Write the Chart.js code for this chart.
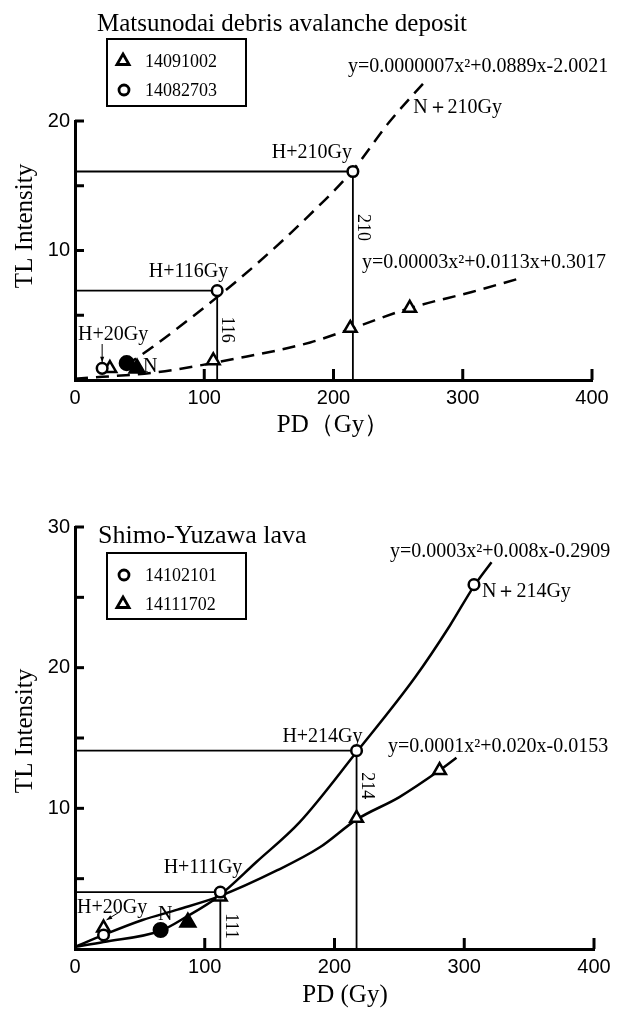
<!DOCTYPE html>
<html>
<head>
<meta charset="utf-8">
<script src="https://cdn.jsdelivr.net/npm/chart.js@4.4.1/dist/chart.umd.min.js"></script>
<style>
  html, body { margin: 0; padding: 0; background: #fff; }
  #wrap { position: relative; width: 629px; height: 1012px; }
  .box { position: absolute; left: 0; width: 629px; }
</style>
</head>
<body>
<div id="wrap">
  <div class="box" style="top:0;height:450px"><canvas id="topChart"></canvas></div>
  <div class="box" style="top:460px;height:552px"><canvas id="bottomChart"></canvas></div>
</div>
<script>
// Matsunodai debris avalanche deposit (top)
const topTriX = [27, 107, 213, 259];          // 14091002
const topTriY = [0.9, 1.5, 4.0, 5.55];
const topCirX = [21, 110, 215, 257];          // 14082703
const topCirY = [0.9, 6.9, 16.1, 21.1];
const topNCirX = [40], topNCirY = [1.3];      // natural, filled
const topNTriX = [48], topNTriY = [0.9];
const topFitCirX = [39, 60, 110, 141, 180, 215, 243, 273];
const topFitCirY = [1.1, 2.55, 6.4, 9.0, 12.6, 16.2, 19.9, 23.3];
const topFitTriX = [0, 63, 127, 182, 215, 259, 307, 346];
const topFitTriY = [0.1, 0.6, 1.7, 2.9, 4.0, 5.55, 6.8, 7.9];
const topGuide1X = [0, 215, 215], topGuide1Y = [16.1, 16.1, 0];
const topGuide2X = [0, 110, 110], topGuide2Y = [6.9, 6.9, 0];

// Shimo-Yuzawa lava (bottom)
const botCirX = [22, 112, 217, 307.5];        // 14102101
const botCirY = [1.0, 4.05, 14.1, 25.9];
const botTriX = [22, 112, 217, 281];          // 14111702
const botTriY = [1.5, 3.7, 9.3, 12.7];
const botNCirX = [66], botNCirY = [1.35];
const botNTriX = [87], botNTriY = [1.9];
const botFitCirX = [0, 22, 66, 86, 110, 140, 173, 217, 262, 289, 307.5, 321];
const botFitCirY = [0.15, 0.5, 1.3, 2.3, 3.7, 6.2, 9.0, 14.0, 19.3, 23.0, 25.8, 27.5];
const botFitTriX = [0, 22, 52, 79, 110, 156, 189, 217, 250, 281, 294];
const botFitTriY = [0.15, 1.0, 2.06, 2.8, 3.7, 5.6, 7.25, 9.2, 10.8, 12.7, 13.6];
const botGuide1X = [0, 217, 217], botGuide1Y = [14.1, 14.1, 0];
const botGuide2X = [0, 112, 112], botGuide2Y = [4.05, 4.05, 0];

const xTicks = [0, 100, 200, 300, 400];

const serif = '"Liberation Serif", "Times New Roman", serif';
const sans = '"Liberation Sans", Arial, sans-serif';

function pts(xs, ys) { return xs.map((x, i) => ({ x: x, y: ys[i] })); }

function marks(xs, ys, style, r, filled) {
  return { data: pts(xs, ys), pointStyle: style, pointRadius: r, pointBorderWidth: 2.5,
    pointBorderColor: '#000', pointBackgroundColor: filled ? '#000' : '#fff',
    showLine: false, clip: false, order: 0 };
}
function curve(xs, ys, dash) {
  return { data: pts(xs, ys), showLine: true, borderColor: '#000', borderWidth: 2.5,
    borderDash: dash || [], pointRadius: 0, cubicInterpolationMode: 'monotone',
    fill: false, clip: false, order: 1 };
}
function guide(xs, ys) {
  return { data: pts(xs, ys), showLine: true, borderColor: '#000', borderWidth: 1.8,
    pointRadius: 0, tension: 0, fill: false, clip: false, order: 2 };
}

function txt(ctx, s, x, y, size, align, base, rot, fam) {
  ctx.save();
  ctx.translate(x, y);
  if (rot) ctx.rotate(rot);
  ctx.font = size + 'px ' + (fam || serif);
  ctx.fillStyle = '#000';
  ctx.textAlign = align || 'left';
  ctx.textBaseline = base || 'alphabetic';
  ctx.fillText(s, 0, 0);
  ctx.restore();
}
function triSym(ctx, x, y, r) {
  ctx.beginPath();
  ctx.moveTo(x, y - r);
  ctx.lineTo(x + r * 0.866, y + r * 0.5);
  ctx.lineTo(x - r * 0.866, y + r * 0.5);
  ctx.closePath();
  ctx.fillStyle = '#fff'; ctx.fill();
  ctx.lineWidth = 2.8; ctx.strokeStyle = '#000'; ctx.stroke();
}
function cirSym(ctx, x, y, r) {
  ctx.beginPath();
  ctx.arc(x, y, r, 0, Math.PI * 2);
  ctx.fillStyle = '#fff'; ctx.fill();
  ctx.lineWidth = 2.8; ctx.strokeStyle = '#000'; ctx.stroke();
}
function arrow(ctx, x1, y1, x2, y2) {
  const a = Math.atan2(y2 - y1, x2 - x1);
  ctx.save();
  ctx.strokeStyle = '#000'; ctx.fillStyle = '#000'; ctx.lineWidth = 1;
  ctx.beginPath(); ctx.moveTo(x1, y1); ctx.lineTo(x2, y2); ctx.stroke();
  ctx.beginPath();
  ctx.moveTo(x2, y2);
  ctx.lineTo(x2 - 6 * Math.cos(a - 0.35), y2 - 6 * Math.sin(a - 0.35));
  ctx.lineTo(x2 - 6 * Math.cos(a + 0.35), y2 - 6 * Math.sin(a + 0.35));
  ctx.closePath(); ctx.fill();
  ctx.restore();
}
function legendBox(ctx, x, y, w, h, rows) {
  ctx.save();
  ctx.lineWidth = 2; ctx.strokeStyle = '#000';
  ctx.strokeRect(x, y, w, h);
  rows.forEach(r => {
    if (r.sym === 'tri') triSym(ctx, x + 16, r.y, 7); else cirSym(ctx, x + 17, r.y, 5);
    txt(ctx, r.label, x + 38, r.y + 1, 18, 'left', 'middle');
  });
  ctx.restore();
}

// inward tick marks drawn at the scale's own tick values
function drawTicks(chart) {
  const ctx = chart.ctx, xs = chart.scales.x, ys = chart.scales.y;
  const a = chart.chartArea;
  ctx.save();
  ctx.strokeStyle = '#000'; ctx.lineWidth = 3;
  xs.ticks.forEach(t => {
    if (t.value === 0) return;
    const p = xs.getPixelForValue(t.value);
    ctx.beginPath(); ctx.moveTo(p, a.bottom); ctx.lineTo(p, a.bottom - 11); ctx.stroke();
  });
  ys.ticks.forEach(t => {
    if (t.value === 0) return;
    const p = ys.getPixelForValue(t.value);
    ctx.beginPath(); ctx.moveTo(a.left, p); ctx.lineTo(a.left + 9, p); ctx.stroke();
  });
  ctx.restore();
}

function scaleOpts(ymax, yW, xH) {
  const border = { display: true, width: 3, color: '#000' };
  return {
    x: { type: 'linear', min: 0, max: 400, afterFit: s => { s.height = xH; },
      afterBuildTicks: s => { s.ticks = xTicks.map(v => ({ value: v })); },
      ticks: { autoSkip: false, padding: 6, color: '#000', maxRotation: 0,
        font: { family: sans, size: 20 } },
      grid: { display: false, drawTicks: false }, border: border },
    y: { type: 'linear', min: 0, max: ymax, afterFit: s => { s.width = yW; },
      ticks: { stepSize: 5, autoSkip: false, padding: 5, color: '#000',
        font: { family: sans, size: 20 },
        callback: v => (v % 10 === 0 && v !== 0) ? String(v) : '' },
      grid: { display: false, drawTicks: false }, border: border }
  };
}

function baseOptions(ymax, pad, xH) {
  return {
    responsive: true, maintainAspectRatio: false, animation: false, events: [],
    layout: { padding: pad },
    plugins: { legend: { display: false }, tooltip: { enabled: false } },
    scales: scaleOpts(ymax, 75, xH)
  };
}

const dash = [13, 8];

new Chart(document.getElementById('topChart'), {
  type: 'scatter',
  data: { datasets: [
    marks(topCirX, topCirY, 'circle', 5.3, false),
    marks(topTriX, topTriY, 'triangle', 7.3, false),
    marks(topNCirX, topNCirY, 'circle', 6.8, true),
    marks(topNTriX, topNTriY, 'triangle', 8.5, true),
    curve(topFitCirX, topFitCirY, dash),
    curve(topFitTriX, topFitTriY, dash),
    guide(topGuide1X, topGuide1Y),
    guide(topGuide2X, topGuide2Y)
  ] },
  options: baseOptions(20, { top: 121, right: 37, left: 0, bottom: 0 }, 70),
  plugins: [{
    id: 'topDeco',
    afterDraw(chart) {
      const ctx = chart.ctx, X = v => chart.scales.x.getPixelForValue(v),
            Y = v => chart.scales.y.getPixelForValue(v);
      drawTicks(chart);
      txt(ctx, 'Matsunodai debris avalanche deposit', 97, 31, 25);
      legendBox(ctx, 107, 39, 139, 67, [
        { sym: 'tri', y: 61, label: '14091002' },
        { sym: 'cir', y: 90, label: '14082703' }
      ]);
      txt(ctx, 'TL Intensity', 25, 226, 25, 'center', 'middle', -Math.PI / 2);
      txt(ctx, 'PD（Gy）', 333, 425, 25, 'center', 'middle');
      txt(ctx, 'y=0.0000007x²+0.0889x-2.0021', 348, 72, 20);
      txt(ctx, 'y=0.00003x²+0.0113x+0.3017', 362, 268, 20);
      txt(ctx, 'H+210Gy', X(topCirX[2]) - 1, Y(topCirY[2]) - 14, 20, 'right');
      txt(ctx, 'N＋210Gy', X(topCirX[3]) + 6, Y(topCirY[3]) + 1, 20, 'left', 'middle');
      txt(ctx, 'H+116Gy', X(topCirX[1]) + 11, Y(topCirY[1]) - 14, 20, 'right');
      txt(ctx, '116', X(topGuide2X[1]) + 10, Y(topCirY[1]) + 39, 18, 'center', 'middle', Math.PI / 2);
      txt(ctx, '210', X(topGuide1X[1]) + 10, Y(topCirY[2]) + 56, 18, 'center', 'middle', Math.PI / 2);
      txt(ctx, 'H+20Gy', 78, 340, 20);
      arrow(ctx, X(topCirX[0]), 344, X(topCirX[0]), Y(topCirY[0]) - 6);
      txt(ctx, 'N', 143, 372, 20);
    }
  }]
});

new Chart(document.getElementById('bottomChart'), {
  type: 'scatter',
  data: { datasets: [
    marks(botCirX, botCirY, 'circle', 5.3, false),
    marks(botTriX, botTriY, 'triangle', 7.3, false),
    marks(botNCirX, botNCirY, 'circle', 6.8, true),
    marks(botNTriX, botNTriY, 'triangle', 8.5, true),
    curve(botFitCirX, botFitCirY),
    curve(botFitTriX, botFitTriY),
    guide(botGuide1X, botGuide1Y),
    guide(botGuide2X, botGuide2Y)
  ] },
  options: baseOptions(30, { top: 67, right: 35, left: 0, bottom: 0 }, 63),
  plugins: [{
    id: 'bottomDeco',
    afterDraw(chart) {
      const ctx = chart.ctx, X = v => chart.scales.x.getPixelForValue(v),
            Y = v => chart.scales.y.getPixelForValue(v);
      drawTicks(chart);
      txt(ctx, 'Shimo-Yuzawa lava', 98, 83, 26);
      legendBox(ctx, 107, 93, 139, 66, [
        { sym: 'cir', y: 115, label: '14102101' },
        { sym: 'tri', y: 144, label: '14111702' }
      ]);
      txt(ctx, 'TL Intensity', 25, 271, 25, 'center', 'middle', -Math.PI / 2);
      txt(ctx, 'PD (Gy)', 345, 535, 25, 'center', 'middle');
      txt(ctx, 'y=0.0003x²+0.008x-0.2909', 390, 97, 20);
      txt(ctx, 'y=0.0001x²+0.020x-0.0153', 388, 292, 20);
      txt(ctx, 'H+214Gy', X(botCirX[2]) + 6, Y(botCirY[2]) - 9, 20, 'right');
      txt(ctx, 'N＋214Gy', X(botCirX[3]) + 8, Y(botCirY[3]) + 7, 20, 'left', 'middle');
      txt(ctx, 'H+111Gy', X(botCirX[1]) + 22, Y(botCirY[1]) - 19, 20, 'right');
      txt(ctx, '214', X(botGuide1X[1]) + 10, Y(botCirY[2]) + 35, 18, 'center', 'middle', Math.PI / 2);
      txt(ctx, '111', X(botGuide2X[1]) + 10, Y(botCirY[1]) + 34, 18, 'center', 'middle', Math.PI / 2);
      txt(ctx, 'H+20Gy', 77, 453, 20);
      arrow(ctx, X(botTriX[0]) + 16, 452, X(botTriX[0]) + 3, Y(botTriY[0]) - 8);
      txt(ctx, 'N', 158, 460, 20);
    }
  }]
});
</script>
</body>
</html>
